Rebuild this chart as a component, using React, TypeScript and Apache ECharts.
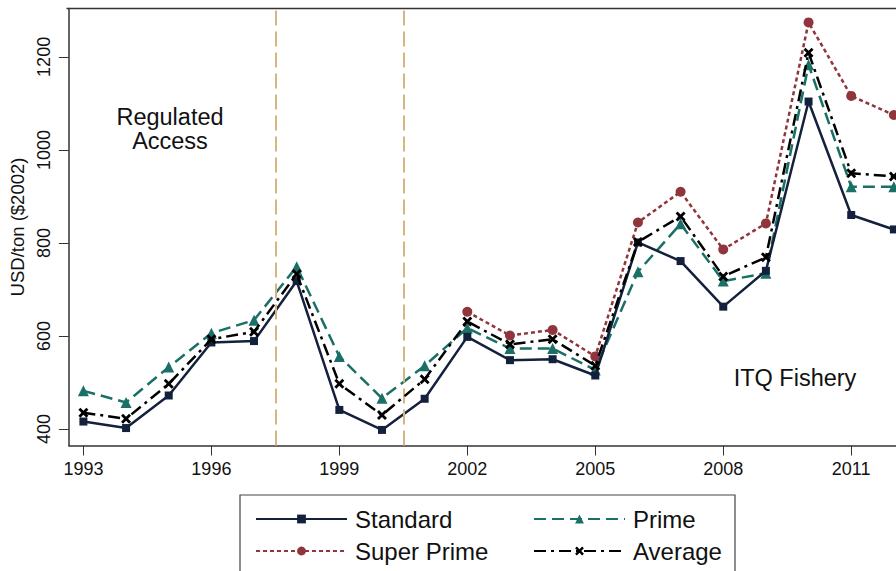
import React, { useEffect, useRef } from "react";
import * as echarts from "echarts";

const years = [1993, 1994, 1995, 1996, 1997, 1998, 1999, 2000, 2001, 2002, 2003, 2004, 2005, 2006, 2007, 2008, 2009, 2010, 2011, 2012];
const standard = [416, 402, 472, 586, 589, 718, 441, 398, 465, 598, 548, 550, 515, 801, 761, 663, 740, 1104, 860, 829];
const prime = [482, 457, 533, 606, 634, 749, 556, 466, 536, 617, 573, 573, 527, 738, 841, 718, 735, 1183, 921, 921];
const superPrime = [null, null, null, null, null, null, null, null, null, 652, 601, 613, 556, 844, 910, 786, 842, 1274, 1116, 1075];
const average = [435, 422, 497, 593, 609, 733, 497, 430, 507, 631, 582, 593, 536, 802, 857, 728, 769, 1209, 950, 943];
const xTicks = [1993, 1996, 1999, 2002, 2005, 2008, 2011];
const yTicks = [400, 600, 800, 1000, 1200];
const regimeBreaks = [1997.5, 2000.5];

const FONT = "Liberation Sans";
const X_SYMBOL = "path://M2 0 L5 3 L8 0 L10 2 L7 5 L10 8 L8 10 L5 7 L2 10 L0 8 L3 5 L0 2 Z";

const pairs = (vals: (number | null)[]) => years.map((y, i) => [y, vals[i]]);

export default function App() {
  const ref = useRef<HTMLDivElement>(null);
  useEffect(() => {
    if (!ref.current) return;
    const chart = echarts.init(ref.current, undefined, { renderer: "svg" });
    chart.setOption({
      animation: false,
      backgroundColor: "#ffffff",
      grid: { left: 66.5, top: 8.5, bottom: 125.5, right: 0, containLabel: false },
      xAxis: {
        type: "value",
        min: 1992.66,
        max: 2012.05,
        splitLine: { show: false },
        axisLine: { show: true, onZero: false, lineStyle: { color: "#333", width: 1.5 } },
        axisTick: { show: true, length: 10, customValues: xTicks, lineStyle: { color: "#333", width: 1 } },
        axisLabel: { customValues: xTicks, fontFamily: FONT, fontSize: 18, color: "#111", margin: 14, formatter: (v: number) => String(v) },
      },
      yAxis: {
        type: "value",
        min: 364.5,
        max: 1304,
        splitLine: { show: false },
        axisLine: { show: true, lineStyle: { color: "#333", width: 1.5 } },
        axisTick: { show: true, length: 10, customValues: yTicks, lineStyle: { color: "#333", width: 1 } },
        axisLabel: { customValues: yTicks, rotate: 90, fontFamily: FONT, fontSize: 18, color: "#111", margin: 16, formatter: (v: number) => String(v) },
        name: "USD/ton ($2002)",
        nameLocation: "middle",
        nameRotate: 90,
        nameGap: 40,
        nameTextStyle: { fontFamily: FONT, fontSize: 18.5, color: "#111" },
      },
      legend: {
        left: 250,
        top: 502,
        orient: "horizontal",
        width: 560,
        itemGap: 8,
        itemWidth: 91,
        itemHeight: 11,
        textStyle: { fontFamily: FONT, fontSize: 24, color: "#111", width: 170, lineHeight: 24, padding: [0, 0, 0, 3] },
        data: ["Standard", "Prime", "Super Prime", "Average"],
      },
      graphic: [
        { type: "line", shape: { x1: 66.5, y1: 8.5, x2: 896, y2: 8.5 }, style: { stroke: "#333", lineWidth: 1.5 }, z: 10 },
        { type: "rect", shape: { x: 240, y: 495, width: 495, height: 100 }, style: { fill: "none", stroke: "#444", lineWidth: 1.2 }, z: 10 },
        { type: "text", x: 170, y: 129, style: { text: "Regulated\nAccess", fontFamily: FONT, fontSize: 23.5, lineHeight: 24, fill: "#111", textAlign: "center", textVerticalAlign: "middle" }, z: 10 },
        { type: "text", x: 795, y: 378, style: { text: "ITQ Fishery", fontFamily: FONT, fontSize: 23.5, fill: "#111", textAlign: "center", textVerticalAlign: "middle" }, z: 10 },
      ],
      series: [
        {
          name: "Standard",
          type: "line",
          data: pairs(standard),
          symbol: "rect",
          symbolSize: 8,
          lineStyle: { color: "#14213d", width: 2.5, type: "solid" },
          itemStyle: { color: "#14213d" },
          z: 4,
          markLine: {
            silent: true,
            symbol: "none",
            label: { show: false },
            lineStyle: { color: "#d6b57f", width: 2, type: [15, 6] },
            data: regimeBreaks.map((b) => ({ xAxis: b })),
          },
        },
        {
          name: "Prime",
          type: "line",
          data: pairs(prime),
          symbol: "triangle",
          symbolSize: 11,
          lineStyle: { color: "#1a6f66", width: 2.5, type: [12, 6] },
          itemStyle: { color: "#1a6f66" },
          z: 3,
        },
        {
          name: "Super Prime",
          type: "line",
          data: pairs(superPrime),
          connectNulls: false,
          symbol: "circle",
          symbolSize: 10,
          lineStyle: { color: "#90353b", width: 2.5, type: [4, 3] },
          itemStyle: { color: "#90353b" },
          z: 2,
        },
        {
          name: "Average",
          type: "line",
          data: pairs(average),
          symbol: X_SYMBOL,
          symbolSize: 10,
          lineStyle: { color: "#000000", width: 2.5, type: [12, 5, 3, 5] },
          itemStyle: { color: "#000000" },
          z: 5,
        },
      ],
    });
    return () => chart.dispose();
  }, []);
  return <div ref={ref} style={{ width: 896, height: 571, position: "absolute", left: 0, top: 0 }} />;
}
